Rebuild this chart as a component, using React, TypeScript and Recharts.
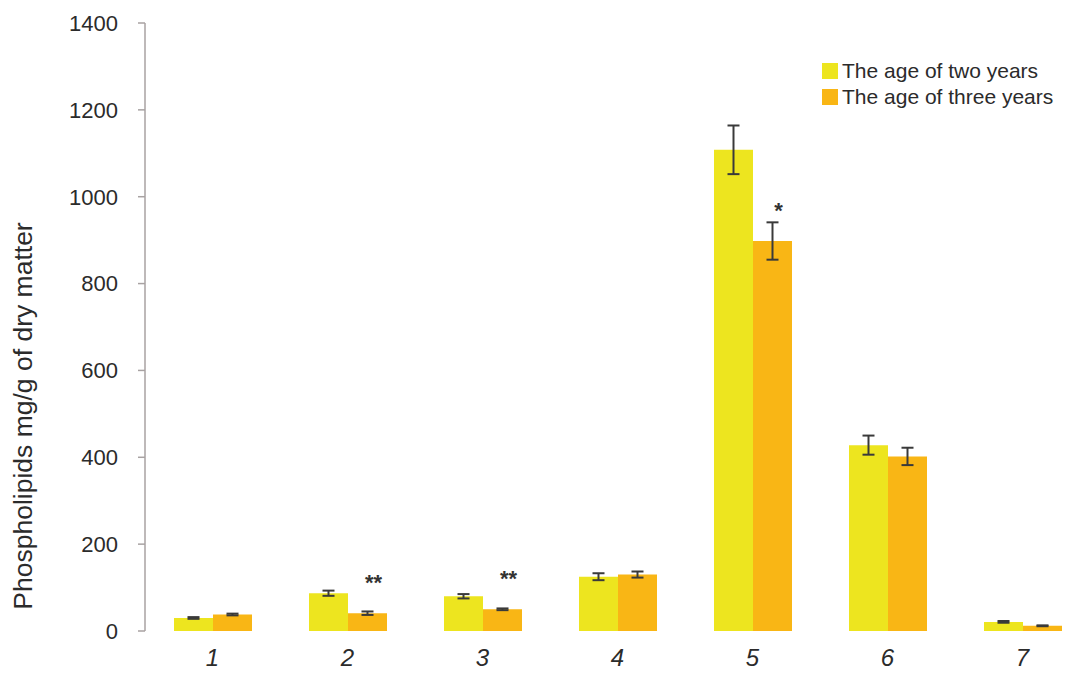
import { BarChart, Bar, XAxis, YAxis, ErrorBar, LabelList } from "recharts";

const groups = ["1", "2", "3", "4", "5", "6", "7"];
const twoYears = [30, 87, 80, 125, 1108, 428, 21];
const threeYears = [38, 41, 50, 130, 898, 402, 12];
const twoYearsErr = [2, 6, 5, 8, 56, 22, 2];
const threeYearsErr = [2, 4, 2, 7, 43, 20, 1];
const marks = ["", "**", "**", "", "*", "", ""];
const yTicks = [0, 200, 400, 600, 800, 1000, 1200, 1400];
const boundaryTicks = [0, 1, 2, 3, 4, 5, 6, 7];

const YELLOW = "#ede51f";
const ORANGE = "#f9b615";
const AXIS = "#a8a2a2";
const TEXT = "#2b2b2b";
const FONT = "'Liberation Sans', Arial, sans-serif";

const data = groups.map((g, i) => ({
  name: g,
  two: twoYears[i],
  three: threeYears[i],
  twoErr: twoYearsErr[i],
  threeErr: threeYearsErr[i],
  mark: marks[i]
}));

const legendItems = [
  { label: "The age of two years", color: YELLOW },
  { label: "The age of three years", color: ORANGE }
];

function LegendBox() {
  return (
    <div
      style={{
        position: "absolute",
        left: 822,
        top: 58,
        fontFamily: FONT,
        fontSize: 21,
        color: TEXT
      }}
    >
      {legendItems.map((it) => (
        <div key={it.label} style={{ display: "flex", alignItems: "center", height: 26, whiteSpace: "nowrap" }}>
          <span style={{ width: 16, height: 16, background: it.color, marginRight: 4, display: "inline-block" }} />
          {it.label}
        </div>
      ))}
    </div>
  );
}

// asterisks above the orange bars
function StarMark(props: any) {
  const { x, y, width, value } = props;
  if (!value) return null;
  return (
    <text
      x={x + width / 2 + 6}
      y={y - 31}
      textAnchor="middle"
      dominantBaseline="central"
      fontFamily={FONT}
      fontSize={22}
      fontWeight="bold"
      fill="#333"
    >
      {value}
    </text>
  );
}

function YTitle() {
  return (
    <text
      x={32}
      y={416}
      transform="rotate(-90 32 416)"
      textAnchor="middle"
      fontFamily={FONT}
      fontSize={26.5}
      fill={TEXT}
    >
      Phospholipids mg/g of dry matter
    </text>
  );
}

export default function App() {
  return (
    <div style={{ position: "absolute", left: 0, top: 0, width: 1086, height: 673, overflow: "hidden", background: "#fff" }}>
      <BarChart
        width={1090}
        height={673}
        data={data}
        margin={{ top: 23, right: 0, bottom: 0, left: 0 }}
        barCategoryGap={29}
        barGap={0}
      >
        {/* tick marks between the groups */}
        <XAxis
          xAxisId="edges"
          type="number"
          domain={[0, 7]}
          ticks={boundaryTicks}
          height={0}
          tick={false}
          tickSize={9}
          axisLine={{ stroke: AXIS, strokeWidth: 1.5 }}
          tickLine={{ stroke: AXIS, strokeWidth: 1.5 }}
        />
        <XAxis
          dataKey="name"
          height={42}
          axisLine={false}
          tickLine={false}
          tickSize={0}
          tickMargin={18}
          tick={{ fill: TEXT, fontSize: 24, fontStyle: "italic", fontFamily: FONT }}
        />
        <YAxis
          width={145}
          domain={[0, 1400]}
          ticks={yTicks}
          tickSize={7}
          tickMargin={20}
          axisLine={{ stroke: AXIS, strokeWidth: 1.5 }}
          tickLine={{ stroke: AXIS, strokeWidth: 1.5 }}
          tick={{ fill: TEXT, fontSize: 22, fontFamily: FONT }}
          label={{ content: () => <YTitle /> }}
        />
        <Bar dataKey="two" fill={YELLOW} isAnimationActive={false}>
          <ErrorBar dataKey="twoErr" width={6} stroke="#3a3a3a" strokeWidth={2} />
        </Bar>
        <Bar dataKey="three" fill={ORANGE} isAnimationActive={false}>
          <ErrorBar dataKey="threeErr" width={6} stroke="#3a3a3a" strokeWidth={2} />
          <LabelList dataKey="mark" content={StarMark} />
        </Bar>
      </BarChart>
      <LegendBox />
    </div>
  );
}
